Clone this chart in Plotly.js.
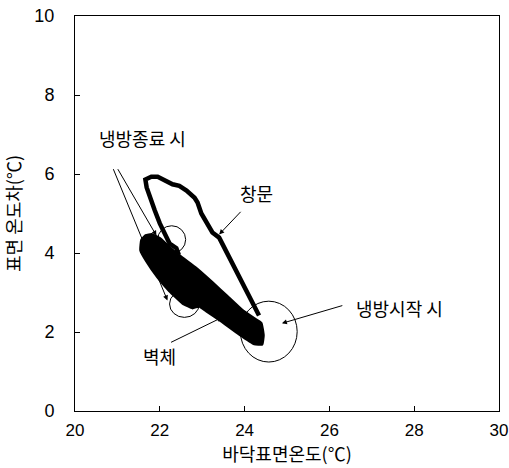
<!DOCTYPE html>
<html>
<head>
<meta charset="utf-8">
<script src="https://cdn.plot.ly/plotly-3.0.1.min.js"></script>
<style>html,body{margin:0;padding:0;background:#fff;}#chart{width:509px;height:468px;}</style>
</head>
<body>
<div id="chart"></div>
<script>
// Wall (벽체) band outline: floor surface temperature vs surface temperature difference
var wallX = [21.57, 21.67, 21.81, 22.00, 22.18, 22.46, 22.86, 23.24, 23.59, 23.94, 24.25, 24.39,
             24.44, 24.41, 24.23, 23.87, 23.45, 23.10, 22.93, 22.77, 22.54, 22.23, 21.95, 21.69, 21.55, 21.57];
var wallY = [4.32, 4.44, 4.47, 4.37, 4.19, 3.93, 3.61, 3.25, 2.90, 2.55, 2.32, 2.22,
             1.92, 1.69, 1.70, 1.95, 2.28, 2.53, 2.66, 2.61, 2.73, 3.04, 3.39, 3.79, 4.07, 4.32];

// Window (창문) loop
var winX = [22.45, 22.39, 22.23, 22.11, 22.00, 21.88, 21.76, 21.69, 21.66, 21.80, 21.95, 22.07, 22.18, 22.30,
            22.46, 22.63, 22.82, 22.89, 22.98, 23.10, 23.24, 23.40, 23.52, 23.59, 23.71, 23.87,
            24.04, 24.15, 24.27, 24.34];
var winY = [3.95, 4.12, 4.24, 4.49, 4.75, 5.08, 5.40, 5.66, 5.86, 5.93, 5.93, 5.86, 5.80, 5.74,
            5.70, 5.58, 5.40, 5.28, 5.00, 4.75, 4.52, 4.39, 4.14, 3.94, 3.74, 3.38,
            3.06, 2.80, 2.55, 2.42];

// Highlight circles (centre x, centre y, radius x, radius y)
var circCX = [22.28, 22.58, 24.57];
var circCY = [4.34, 2.71, 2.01];
var circRX = [0.33, 0.35, 0.67];
var circRY = [0.35, 0.34, 0.77];

// Labels
var labelText = ['냉방종료 시', '창문', '냉방시작 시', '벽체'];
var labelX = [21.60, 24.27, 27.65, 22.00];
var labelY = [6.92, 5.53, 2.60, 1.39];

// Arrows (tail -> head)
var arrTailX = [20.99, 20.89, 23.94, 26.34, 22.23];
var arrTailY = [6.16, 6.16, 5.08, 2.68, 1.72];
var arrHeadX = [21.92, 22.18, 23.40, 24.88, 23.47];
var arrHeadY = [4.44, 2.80, 4.47, 2.22, 2.37];

var xTicks = [20, 22, 24, 26, 28, 30];
var yTicks = [0, 2, 4, 6, 8, 10];

var FONT = 'Liberation Sans, Arial, Noto Sans CJK KR, sans-serif';
var KFONT = 'Noto Sans CJK KR, Liberation Sans, sans-serif';

var traces = [
  {x: wallX, y: wallY, type: 'scatter', mode: 'lines', fill: 'toself',
   fillcolor: '#000', line: {color: '#000', width: 3, shape: 'spline', smoothing: 0.3},
   hoverinfo: 'skip', showlegend: false, name: '벽체'},
  {x: winX, y: winY, type: 'scatter', mode: 'lines',
   line: {color: '#000', width: 4.5}, hoverinfo: 'skip', showlegend: false, name: '창문'}
];

var shapes = [];
for (var i = 0; i < circCX.length; i++) {
  shapes.push({type: 'circle', xref: 'x', yref: 'y',
    x0: circCX[i] - circRX[i], x1: circCX[i] + circRX[i],
    y0: circCY[i] - circRY[i], y1: circCY[i] + circRY[i],
    line: {color: '#000', width: 1}, fillcolor: 'rgba(0,0,0,0)', layer: 'below'});
}

var annotations = [];
for (var j = 0; j < labelText.length; j++) {
  annotations.push({x: labelX[j], y: labelY[j], xref: 'x', yref: 'y', text: labelText[j],
    showarrow: false, font: {family: KFONT, size: 18, color: '#000'}});
}
for (var k = 0; k < arrTailX.length; k++) {
  annotations.push({x: arrHeadX[k], y: arrHeadY[k], ax: arrTailX[k], ay: arrTailY[k],
    xref: 'x', yref: 'y', axref: 'x', ayref: 'y', text: '', showarrow: true,
    arrowhead: 2, arrowsize: 1, arrowwidth: 1, arrowcolor: '#000', standoff: 0});
}

var layout = {
  width: 509, height: 468,
  margin: {l: 75, r: 10, t: 16, b: 57},
  paper_bgcolor: '#fff', plot_bgcolor: '#fff',
  font: {family: FONT, color: '#000', size: 18},
  xaxis: {range: [20, 30], tickvals: xTicks, ticktext: xTicks.map(String),
    ticks: 'inside', ticklen: 5, tickcolor: '#000', tickwidth: 1,
    showline: true, linecolor: '#000', linewidth: 1, mirror: true,
    showgrid: false, zeroline: false, ticklabelstandoff: 4, ticklabeloverflow: 'allow',
    tickfont: {family: FONT, size: 17, color: '#000'},
    title: {text: '바닥표면온도(℃)', font: {family: KFONT, size: 18, color: '#000'}, standoff: 8}},
  yaxis: {range: [0, 10], tickvals: yTicks, ticktext: yTicks.map(String),
    ticks: 'inside', ticklen: 5, tickcolor: '#000', tickwidth: 1,
    showline: true, linecolor: '#000', linewidth: 1, mirror: true,
    showgrid: false, zeroline: false, ticklabelstandoff: 16, ticklabeloverflow: 'allow',
    tickfont: {family: FONT, size: 18, color: '#000'},
    title: {text: '표면 온도차(℃)', font: {family: KFONT, size: 18, color: '#000'}, standoff: 10}},
  shapes: shapes,
  annotations: annotations,
  showlegend: false
};

Plotly.newPlot('chart', traces, layout, {staticPlot: true, displayModeBar: false});
</script>
</body>
</html>
